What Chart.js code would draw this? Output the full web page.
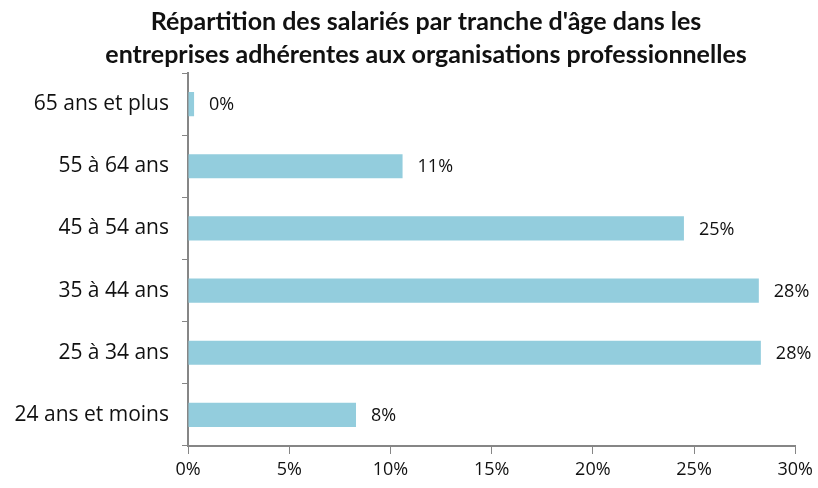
<!DOCTYPE html>
<html>
<head>
<meta charset="utf-8">
<script src="https://cdn.jsdelivr.net/npm/chart.js@4/dist/chart.umd.min.js"></script>
<style>
  html, body { margin: 0; padding: 0; background: #fff; }
  #wrap { width: 818px; height: 488px; }
</style>
</head>
<body>
<div id="wrap"><canvas id="chart" width="818" height="488"></canvas></div>
<script>
  const TITLE_LINES = [
    "Répartition des salariés par tranche d'âge dans les",
    "entreprises adhérentes aux organisations professionnelles",
  ];
  const AGE_GROUPS = [
    "65 ans et plus",
    "55 à 64 ans",
    "45 à 54 ans",
    "35 à 44 ans",
    "25 à 34 ans",
    "24 ans et moins",
  ];
  const SHARE_PCT = [0.3, 10.6, 24.5, 28.2, 28.3, 8.3];
  const X_TICKS = [0, 5, 10, 15, 20, 25, 30];

  const AXIS_GREY = "#868686";
  const BAR_BLUE = "#93cddd";
  const TITLE_FONT = "Lato, 'Open Sans', sans-serif";
  const FONT = "'Open Sans', Lato, sans-serif";

  // title drawn by hand: the original is centred a bit right of the canvas middle
  const offsetTitle = {
    id: "offsetTitle",
    afterDraw(chart) {
      const ctx = chart.ctx;
      ctx.save();
      ctx.font = `bold 25px ${TITLE_FONT}`;
      ctx.fillStyle = "#111";
      ctx.textAlign = "center";
      ctx.textBaseline = "middle";
      TITLE_LINES.forEach((line, i) => {
        ctx.fillText(line, 426, 22 + i * 33);
      });
      ctx.restore();
    },
  };

  // writes the rounded share just past the end of each bar
  const barLabels = {
    id: "barLabels",
    afterDatasetsDraw(chart) {
      const ctx = chart.ctx;
      const meta = chart.getDatasetMeta(0);
      ctx.save();
      ctx.font = `18px ${FONT}`;
      ctx.fillStyle = "#111";
      ctx.textAlign = "left";
      ctx.textBaseline = "middle";
      meta.data.forEach((bar, i) => {
        ctx.fillText(`${Math.round(SHARE_PCT[i])}%`, bar.x + 15, bar.y + 1);
      });
      ctx.restore();
    },
  };

  new Chart(document.getElementById("chart"), {
    type: "bar",
    data: {
      labels: AGE_GROUPS,
      datasets: [
        {
          data: SHARE_PCT,
          backgroundColor: BAR_BLUE,
          borderWidth: 0,
          categoryPercentage: 1,
          barPercentage: 0.39,
        },
      ],
    },
    options: {
      indexAxis: "y",
      responsive: false,
      animation: false,
      layout: { padding: { left: 0, right: 12, top: 73, bottom: 0 } },
      plugins: {
        legend: { display: false },
        tooltip: { enabled: false },
        title: { display: false },
      },
      scales: {
        x: {
          min: 0,
          max: 30,
          afterBuildTicks(scale) {
            scale.ticks = X_TICKS.map((v) => ({ value: v }));
          },
          afterFit(scale) {
            scale.height = 42;
          },
          grid: {
            drawOnChartArea: false,
            drawTicks: true,
            tickLength: 8,
            color: AXIS_GREY,
          },
          border: { color: AXIS_GREY, width: 2 },
          ticks: {
            padding: 5,
            color: "#111",
            font: { family: FONT, size: 18 },
            maxRotation: 0,
            callback: (v) => `${v}%`,
          },
        },
        y: {
          afterFit(scale) {
            scale.width = 188;
          },
          grid: {
            offset: true,
            drawOnChartArea: false,
            drawTicks: true,
            tickLength: 6,
            color: AXIS_GREY,
          },
          border: { color: AXIS_GREY, width: 2 },
          ticks: {
            padding: 13,
            color: "#111",
            font: { family: FONT, size: 21 },
          },
        },
      },
    },
    plugins: [barLabels, offsetTitle],
  });
</script>
</body>
</html>
